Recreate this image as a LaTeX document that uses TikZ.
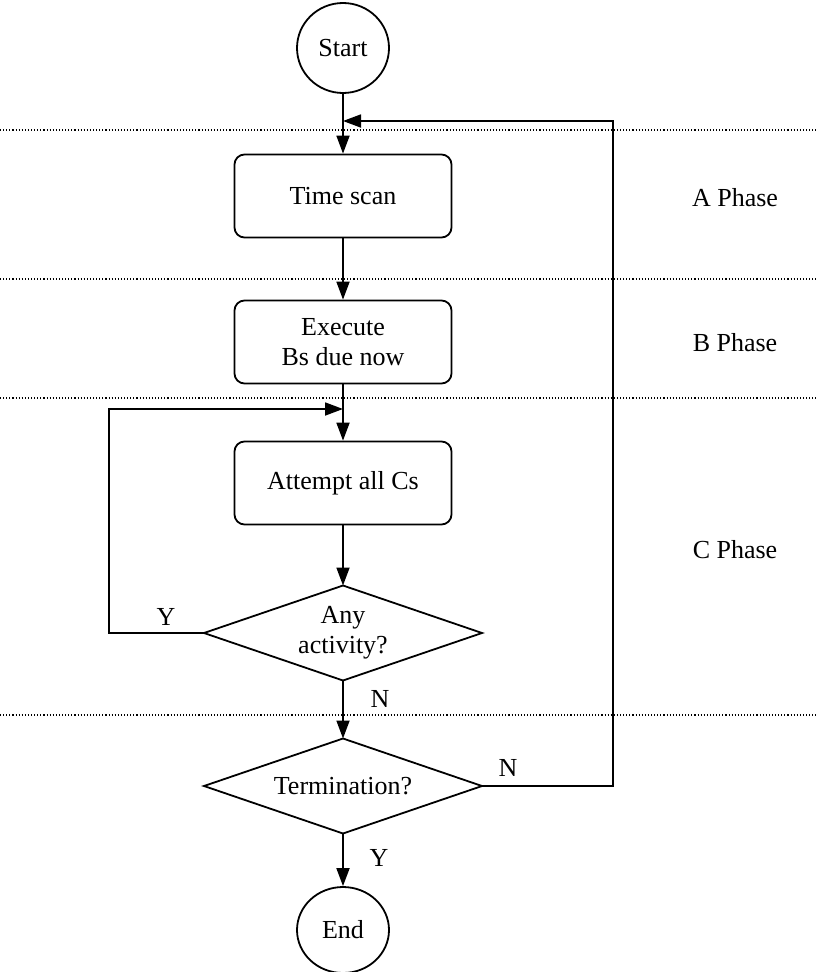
\documentclass[tikz,border=0pt]{standalone}
\usepackage{fontspec}
\setmainfont{Liberation Serif}
\usetikzlibrary{shapes.geometric,arrows.meta}
\begin{document}
\begin{tikzpicture}[x=1pt,y=-1pt,
  font=\fontsize{26}{30}\selectfont,
  line width=1.8pt,
  terminal/.style={draw,ellipse,inner sep=0pt,minimum width=92pt},
  stepbox/.style={draw,rounded corners=10pt,minimum width=217pt,minimum height=83pt,inner sep=0pt,align=center},
  decision/.style={draw,diamond,aspect=2.93,minimum width=278pt,minimum height=95pt,inner sep=0pt,outer sep=0pt,align=center},
  arr/.style={-{Triangle[length=18pt,width=13pt]}},
  phaseline/.style={line width=1.1pt,dash pattern=on 1.1pt off 2pt},
  lbl/.style={inner sep=0pt}]
\useasboundingbox (0,0) rectangle (816,972);

% phase separators
\draw[phaseline] (0,130) -- (816,130);
\draw[phaseline] (0,279) -- (816,279);
\draw[phaseline] (0,398) -- (816,398);
\draw[phaseline] (0,715) -- (816,715);

% phase names
\node[lbl] (pa) at (735,198) {A Phase};
\node[lbl] (pb) at (735,343) {B Phase};
\node[lbl] (pc) at (735,550) {C Phase};

% flow
\node[terminal,minimum height=90pt] (start) at (343,48) {Start};
\node[stepbox] (ts) at (343,196) {Time scan};
\node[stepbox] (ex) at (343,342) {Execute\\Bs due now};
\node[stepbox] (at) at (343,483) {Attempt all Cs};
\node[decision] (d1) at (343,633) {Any\\activity?};
\node[decision] (d2) at (343,786) {Termination?};
\node[terminal,minimum height=86pt] (end) at (343,930) {End};

% loop-back points
\coordinate (topmerge) at (343,121);
\coordinate (rightcorner) at (613,121);
\coordinate (cmerge) at (343,409);
\coordinate (leftcorner) at (109,409);

\draw[arr] (start) -- (ts);
\draw[arr] (ts) -- (ex);
\draw[arr] (ex) -- (at);
\draw[arr] (at) -- (d1.north);
\draw[arr] (d1.south) -- (d2.north);
\draw[arr] (d2.south) -- (end);
\draw[arr] (d1.west) -| (leftcorner) -- (cmerge);
\draw[arr] (d2.east) -| (rightcorner) -- (topmerge);

% branch labels
\node[lbl] (y1) at (166,617) {Y};
\node[lbl] (n1) at (380,699) {N};
\node[lbl] (n2) at (508,768) {N};
\node[lbl] (y2) at (379,858) {Y};
\end{tikzpicture}
\end{document}
